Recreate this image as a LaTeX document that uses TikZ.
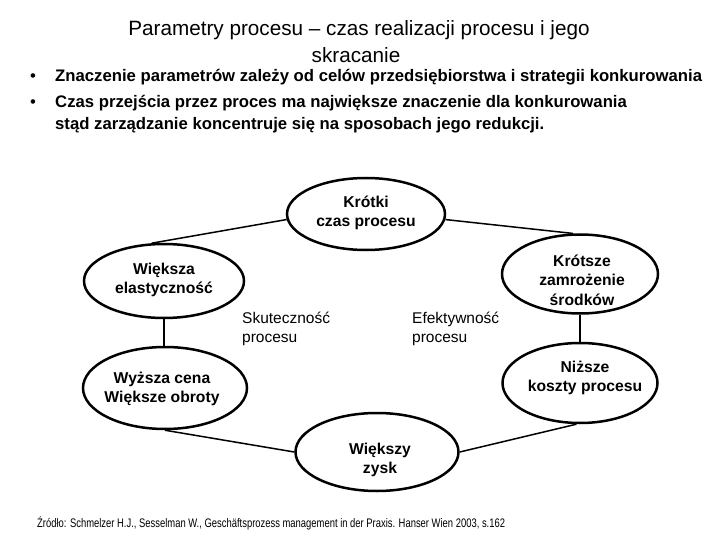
\documentclass[tikz,border=0pt]{standalone}
\usepackage{fontspec}
\setmainfont{Liberation Sans}
\usetikzlibrary{shapes.geometric}
\begin{document}
\begin{tikzpicture}[x=1pt,y=-1pt,
  ell/.style={draw, ellipse, line width=2.5pt, inner sep=0pt},
  lbl/.style={font=\fontsize{15.7}{19.5}\selectfont\bfseries, align=center, inner sep=0pt},
  plain/.style={font=\fontsize{15.5}{19}\selectfont, align=left, anchor=north west, inner sep=0pt},
  conn/.style={line width=1.5pt},
  title/.style={font=\fontsize{20.7}{25}\selectfont, anchor=base, inner sep=0pt},
  bul/.style={font=\fontsize{16.7}{21}\selectfont\bfseries, anchor=base west, inner sep=0pt}
]
\useasboundingbox (0,0) rectangle (720,540);

% title
\node[title] (t1) at (359,36) {Parametry procesu – czas realizacji procesu i jego};
\node[title] (t2) at (356,63) {skracanie};

% bullets
\node[font=\fontsize{16.7}{21}\selectfont, anchor=base, inner sep=0pt] (b1) at (33,82) {\textbullet};
\node[font=\fontsize{16.7}{21}\selectfont, anchor=base, inner sep=0pt] (b2) at (33,108) {\textbullet};
\node[bul] (l1) at (55,82) {Znaczenie parametrów zależy od celów przedsiębiorstwa i strategii konkurowania};
\node[bul] (l2) at (55,108) {Czas przejścia przez proces ma największe znaczenie dla konkurowania};
\node[bul] (l3) at (55,130) {stąd zarządzanie koncentruje się na sposobach jego redukcji.};

% ellipses
\node[ell, minimum width=158pt, minimum height=72pt] (krotki) at (366,214) {};
\node[lbl] (krotkitxt) at (366,213) {Krótki\\czas procesu};

\node[ell, minimum width=160pt, minimum height=74pt] (wieksza) at (164,281) {};
\node[lbl] (wiekszatxt) at (164,280) {Większa\\elastyczność};

\node[ell, minimum width=156pt, minimum height=79pt] (krotsze) at (580,274) {};
\node[lbl] (krotszetxt) at (582,280) {Krótsze\\zamrożenie\\środków};

\node[ell, minimum width=164pt, minimum height=82pt] (wyzsza) at (165,388) {};
\node[lbl] (wyzszatxt) at (162,389) {Wyższa cena\\Większe obroty};

\node[ell, minimum width=155pt, minimum height=80pt] (nizsze) at (580,383) {};
\node[lbl] (nizszetxt) at (585,378) {Niższe\\koszty procesu};

\node[ell, minimum width=163pt, minimum height=78pt] (zysk) at (377,452) {};
\node[lbl] (zysktxt) at (380,460) {Większy\\zysk};

% free labels
\node[plain] (skut) at (242,312) {Skuteczność\\procesu};
\node[plain] (efek) at (412,312) {Efektywność\\procesu};

% connectors
\draw[conn] (krotki.184) -- (wieksza.108);
\draw[conn] (krotki.356) -- (krotsze.100);
\draw[conn] (wieksza.south) -- (wieksza.south |- wyzsza.north);
\draw[conn] (krotsze.south) -- (krotsze.south |- nizsze.north);
\draw[conn] (wyzsza.south) -- (zysk.west);
\draw[conn] (nizsze.265) -- (zysk.east);

% source
\node[anchor=base west, inner sep=0pt, font=\fontsize{12.4}{14}\selectfont] (src) at (37,527)
  {\scalebox{0.76}[1]{Źródło: Schmelzer H.J., Sesselman W., Geschäftsprozess management in der Praxis. Hanser Wien 2003, s.162}};
\end{tikzpicture}
\end{document}
